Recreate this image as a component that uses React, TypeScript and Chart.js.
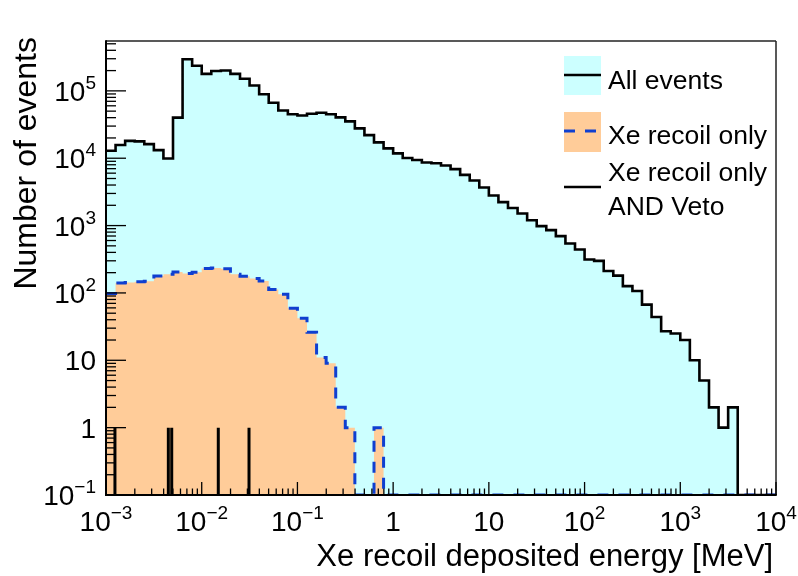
import { useEffect, useRef } from "react";
import { Chart, registerables } from "chart.js";

Chart.register(...registerables);

// ---------------- data ----------------
const X_MIN = 1e-3;
const X_MAX = 1e4;
const Y_MIN = 0.1;
const Y_MAX = 5.5e5;
const FIRST_EDGE_EXP = -3; // first bin edge = 10^-3 MeV
const BINS_PER_DECADE = 10; // logarithmic binning

// "All events" counts per bin (70 bins, 10^-3 .. 10^4 MeV)
const ALL_EVENTS = [
  12900, 15700, 18100, 17800, 16200, 13200, 9900, 40000, 294000, 236000,
  179000, 197000, 201000, 179000, 151000, 120000, 89000, 66500, 51000, 45000,
  43000, 45700, 47300, 45000, 40400, 35200, 27700, 22000, 17200, 14000,
  11800, 10100, 9400, 8650, 8400, 7800, 6900, 5660, 4680, 3680,
  2800, 2230, 1820, 1510, 1200, 980, 855, 697, 542, 442,
  313, 299, 212, 181, 126, 107, 67, 44, 27, 25,
  20, 10, 5, 2, 1, 2, 0, 0, 0, 0,
];

// "Xe recoil only" counts per bin
const XE_RECOIL_ONLY = [
  98, 141, 143, 146, 149, 179, 190, 205, 194, 203,
  230, 235, 228, 190, 177, 164, 151, 112, 96, 59,
  42, 26, 11, 9, 2, 1, 0, 0, 1, 0,
  0, 0, 0, 0, 0, 0, 0, 0, 0, 0,
  0, 0, 0, 0, 0, 0, 0, 0, 0, 0,
  0, 0, 0, 0, 0, 0, 0, 0, 0, 0,
  0, 0, 0, 0, 0, 0, 0, 0, 0, 0,
];

// "Xe recoil only AND Veto": isolated single events (fine binning)
const VETO_ENERGIES = [1.24e-3, 4.48e-3, 4.86e-3, 1.49e-2, 3.12e-2];
const VETO_COUNTS = [1, 1, 1, 1, 1];

// ticks
const X_TICK_VALUES = [1e-3, 1e-2, 1e-1, 1, 10, 1e2, 1e3, 1e4];
const X_TICK_LABELS: [string, string][] = [
  ["10", "\u22123"], ["10", "\u22122"], ["10", "\u22121"], ["1", ""],
  ["10", ""], ["10", "2"], ["10", "3"], ["10", "4"],
];
const Y_TICK_VALUES = [0.1, 1, 10, 100, 1e3, 1e4, 1e5];
const Y_TICK_LABELS: [string, string][] = [
  ["10", "\u22121"], ["1", ""], ["10", ""], ["10", "2"], ["10", "3"], ["10", "4"], ["10", "5"],
];

const X_TITLE = "Xe recoil deposited energy [MeV]";
const Y_TITLE = "Number of events";
const LEGEND_LABELS: string[][] = [["All events"], ["Xe recoil only"], ["Xe recoil only", "AND Veto"]];

// ---------------- styles ----------------
const FONT = '"Liberation Sans", Arial, Helvetica, sans-serif';
const CYAN = "#ccffff";
const ORANGE = "#ffcc99";
const BLUE = "#0f3fd0";
const DASH = [11, 10];

function histPoints(values: number[]) {
  const pts = values.map((v, i) => ({
    x: Math.pow(10, FIRST_EDGE_EXP + i / BINS_PER_DECADE),
    y: v > 0 ? v : Y_MIN,
  }));
  const last = values[values.length - 1];
  pts.push({
    x: Math.pow(10, FIRST_EDGE_EXP + values.length / BINS_PER_DECADE),
    y: last > 0 ? last : Y_MIN,
  });
  return pts;
}

function spikePoints(energies: number[], counts: number[]) {
  const pts: { x: number; y: number | null }[] = [];
  energies.forEach((e, i) => {
    pts.push({ x: e, y: Y_MIN });
    pts.push({ x: e, y: counts[i] });
    pts.push({ x: e, y: null });
  });
  return pts;
}

function drawPowerLabel(
  ctx: CanvasRenderingContext2D,
  base: string,
  exp: string,
  x: number,
  baseline: number,
  align: "center" | "right",
  size: number
) {
  const supSize = size * 0.68;
  ctx.font = `${size}px ${FONT}`;
  const wb = ctx.measureText(base).width;
  ctx.font = `${supSize}px ${FONT}`;
  const we = exp ? ctx.measureText(exp).width : 0;
  const total = wb + we;
  const start = align === "center" ? x - total / 2 : x - total;
  ctx.textAlign = "left";
  ctx.textBaseline = "alphabetic";
  ctx.font = `${size}px ${FONT}`;
  ctx.fillText(base, start, baseline);
  if (exp) {
    ctx.font = `${supSize}px ${FONT}`;
    ctx.fillText(exp, start + wb, baseline - size * 0.42);
  }
}

const rootDecor = {
  id: "rootDecor",
  afterDatasetsDraw(chart: any) {
    const { ctx, chartArea: a } = chart;
    const xs = chart.scales.x;
    const ys = chart.scales.y;
    ctx.save();
    const seg = (x1: number, y1: number, x2: number, y2: number) => {
      ctx.beginPath();
      ctx.moveTo(x1, y1);
      ctx.lineTo(x2, y2);
      ctx.stroke();
    };
    // frame
    ctx.strokeStyle = "#222";
    ctx.lineWidth = 1.5;
    seg(a.left, a.top, a.right, a.top);
    seg(a.right, a.top, a.right, a.bottom);
    ctx.strokeStyle = "#000";
    ctx.lineWidth = 2;
    seg(a.left, a.top - 0.75, a.left, a.bottom + 1);
    seg(a.left - 1, a.bottom, a.right + 0.75, a.bottom);

    // x ticks (log)
    ctx.lineWidth = 1.3;
    for (let d = Math.floor(Math.log10(X_MIN)); d <= Math.ceil(Math.log10(X_MAX)); d++) {
      for (let m = 1; m <= 9; m++) {
        const v = m * Math.pow(10, d);
        if (v < X_MIN * 0.999 || v > X_MAX * 1.001) continue;
        const px = xs.getPixelForValue(v);
        const len = m === 1 ? 13 : 6.5;
        seg(px, a.bottom, px, a.bottom - len);
      }
    }
    // y ticks (log)
    for (let d = Math.floor(Math.log10(Y_MIN)); d <= Math.ceil(Math.log10(Y_MAX)); d++) {
      for (let m = 1; m <= 9; m++) {
        const v = m * Math.pow(10, d);
        if (v < Y_MIN * 0.999 || v > Y_MAX * 1.001) continue;
        const py = ys.getPixelForValue(v);
        const len = m === 1 ? 20 : 10;
        seg(a.left, py, a.left + len, py);
      }
    }

    // tick labels
    ctx.fillStyle = "#000";
    const TICK_SIZE = 28;
    X_TICK_VALUES.forEach((v, i) => {
      const [b, e] = X_TICK_LABELS[i];
      drawPowerLabel(ctx, b, e, xs.getPixelForValue(v), 531, "center", TICK_SIZE);
    });
    Y_TICK_VALUES.forEach((v, i) => {
      const [b, e] = Y_TICK_LABELS[i];
      drawPowerLabel(ctx, b, e, 96, ys.getPixelForValue(v) + TICK_SIZE * 0.358, "right", TICK_SIZE);
    });

    // axis titles
    ctx.font = `31px ${FONT}`;
    ctx.textAlign = "right";
    ctx.textBaseline = "alphabetic";
    ctx.fillText(X_TITLE, a.right - 3, 566);
    ctx.save();
    ctx.translate(36, a.top - 4);
    ctx.rotate(-Math.PI / 2);
    ctx.font = `32px ${FONT}`;
    ctx.textAlign = "right";
    ctx.fillText(Y_TITLE, 0, 0);
    ctx.restore();

    // legend
    const bx1 = 564;
    const bx2 = 601;
    const tx = 608;
    const LSIZE = 26.5;
    ctx.font = `${LSIZE}px ${FONT}`;
    ctx.textAlign = "left";
    // entry 1
    ctx.fillStyle = CYAN;
    ctx.fillRect(bx1, 56, bx2 - bx1, 39);
    ctx.strokeStyle = "#000";
    ctx.lineWidth = 2.5;
    seg(bx1, 75, bx2, 75);
    ctx.fillStyle = "#000";
    ctx.fillText(LEGEND_LABELS[0][0], tx, 79.5 + LSIZE * 0.358);
    // entry 2
    ctx.fillStyle = ORANGE;
    ctx.fillRect(bx1, 112, bx2 - bx1, 40);
    ctx.strokeStyle = BLUE;
    ctx.lineWidth = 3;
    ctx.setLineDash(DASH);
    seg(bx1, 131, bx2, 131);
    ctx.setLineDash([]);
    ctx.fillStyle = "#000";
    ctx.fillText(LEGEND_LABELS[1][0], tx, 135 + LSIZE * 0.358);
    // entry 3
    ctx.strokeStyle = "#000";
    ctx.lineWidth = 2.5;
    seg(bx1, 187, bx2, 187);
    ctx.fillText(LEGEND_LABELS[2][0], tx, 171.5 + LSIZE * 0.358);
    ctx.fillText(LEGEND_LABELS[2][1], tx, 206 + LSIZE * 0.358);

    ctx.restore();
  },
};

export default function App() {
  const ref = useRef<HTMLCanvasElement | null>(null);
  useEffect(() => {
    if (!ref.current) return;
    const chart = new Chart(ref.current, {
      type: "line",
      data: {
        datasets: [
          {
            label: LEGEND_LABELS[2].join(" "),
            data: spikePoints(VETO_ENERGIES, VETO_COUNTS) as any,
            borderColor: "#000",
            borderWidth: 3,
            pointRadius: 0,
            fill: false,
            spanGaps: false,
            order: 1,
          },
          {
            label: LEGEND_LABELS[1][0],
            data: histPoints(XE_RECOIL_ONLY) as any,
            stepped: true,
            borderColor: BLUE,
            borderWidth: 3,
            borderDash: DASH,
            backgroundColor: ORANGE,
            fill: "start",
            pointRadius: 0,
            order: 2,
          },
          {
            label: LEGEND_LABELS[0][0],
            data: histPoints(ALL_EVENTS) as any,
            stepped: true,
            borderColor: "#000",
            borderWidth: 2.6,
            backgroundColor: CYAN,
            fill: "start",
            pointRadius: 0,
            order: 3,
          },
        ],
      },
      options: {
        responsive: false,
        devicePixelRatio: 1,
        animation: false,
        layout: { padding: { left: 106, top: 41, right: 22, bottom: 81 } },
        plugins: { legend: { display: false }, tooltip: { enabled: false } },
        scales: {
          x: { type: "logarithmic", min: X_MIN, max: X_MAX, display: false, bounds: "data" },
          y: { type: "logarithmic", min: Y_MIN, max: Y_MAX, display: false, bounds: "data" },
        },
      },
      plugins: [rootDecor],
    });
    return () => chart.destroy();
  }, []);
  return (
    <div style={{ position: "absolute", left: 0, top: 0, width: 798, height: 576, background: "#fff" }}>
      <canvas ref={ref} width={798} height={576} style={{ display: "block" }} />
    </div>
  );
}
